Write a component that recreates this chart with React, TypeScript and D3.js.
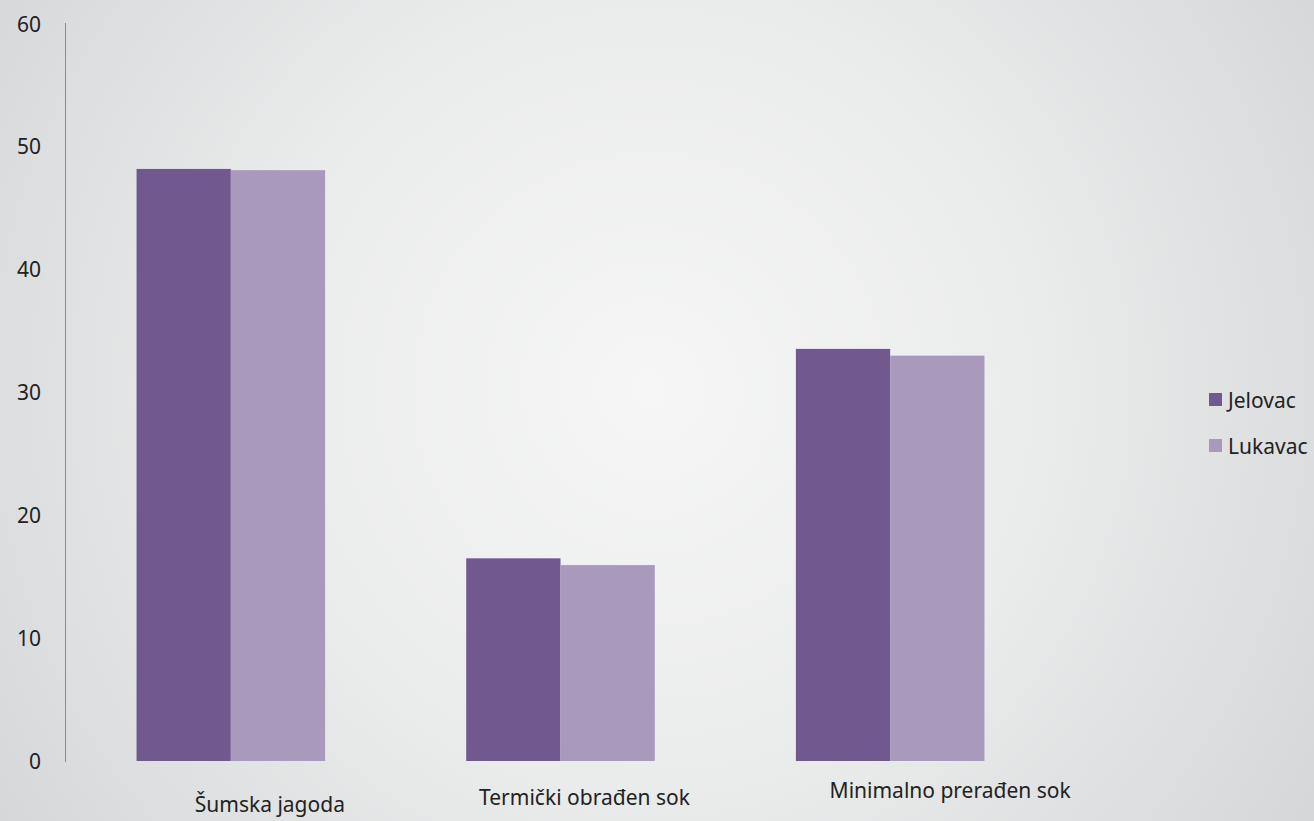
import React from "react";
import * as d3 from "d3";

const categories = ["Šumska jagoda", "Termički obrađen sok", "Minimalno prerađen sok"];
const seriesNames = ["Jelovac", "Lukavac"];
const jelovac = [48.2, 16.5, 33.55];
const lukavac = [48.1, 15.95, 33.0];
const yTicks = [0, 10, 20, 30, 40, 50, 60];
const colors = ["#71588f", "#a99abd"];
const labelDy = [51, 44, 37];
const labelDx = [39, 24, 60];

const W = 1314;
const H = 821;

export default function App() {
  const x = d3.scaleBand<string>().domain(categories).range([66, 1055]).paddingInner(0.428).paddingOuter(0.214);
  const xs = d3.scaleBand<string>().domain(seriesNames).range([0, x.bandwidth()]);
  const y = d3.scaleLinear().domain([0, 60]).range([761, 24]);
  const values = [jelovac, lukavac];
  return (
    <svg width={W} height={H} style={{ position: "absolute", left: 0, top: 0, display: "block" }}>
      <defs>
        <radialGradient id="bg" cx="650" cy="390" r="800" gradientUnits="userSpaceOnUse">
          <stop offset="0" stopColor="#f6f6f6" />
          <stop offset="0.5" stopColor="#eaebeb" />
          <stop offset="1" stopColor="#d4d6d8" />
        </radialGradient>
      </defs>
      <rect x={0} y={0} width={W} height={H} fill="url(#bg)" />
      <line x1={65.5} x2={65.5} y1={y(60) - 1} y2={y(0) + 1} stroke="#8a8a8a" strokeWidth={1} />
      {yTicks.map((t) => (
        <text key={t} x={41} y={y(t)} dy="0.36em" textAnchor="end" fontFamily="'Noto Sans', sans-serif" fontSize={21} fill="#222">
          {t}
        </text>
      ))}
      {categories.map((c, i) => (
        <g key={c} transform={`translate(${x(c)},0)`}>
          {seriesNames.map((s, j) => (
            <rect key={s} x={xs(s)} y={y(values[j][i])} width={xs.bandwidth()} height={y(0) - y(values[j][i])} fill={colors[j]} />
          ))}
          <text x={x.bandwidth() / 2 + labelDx[i]} y={y(0) + labelDy[i]} textAnchor="middle" fontFamily="'Noto Sans', sans-serif" fontSize={21} fill="#222">
            {c}
          </text>
        </g>
      ))}
      {seriesNames.map((s, j) => (
        <g key={s} transform={`translate(1209,${393 + j * 46})`}>
          <rect x={0} y={0} width={13} height={13} fill={colors[j]} />
          <text x={19} y={7} dy="0.36em" fontFamily="'Noto Sans', sans-serif" fontSize={21} fill="#222">
            {s}
          </text>
        </g>
      ))}
    </svg>
  );
}
